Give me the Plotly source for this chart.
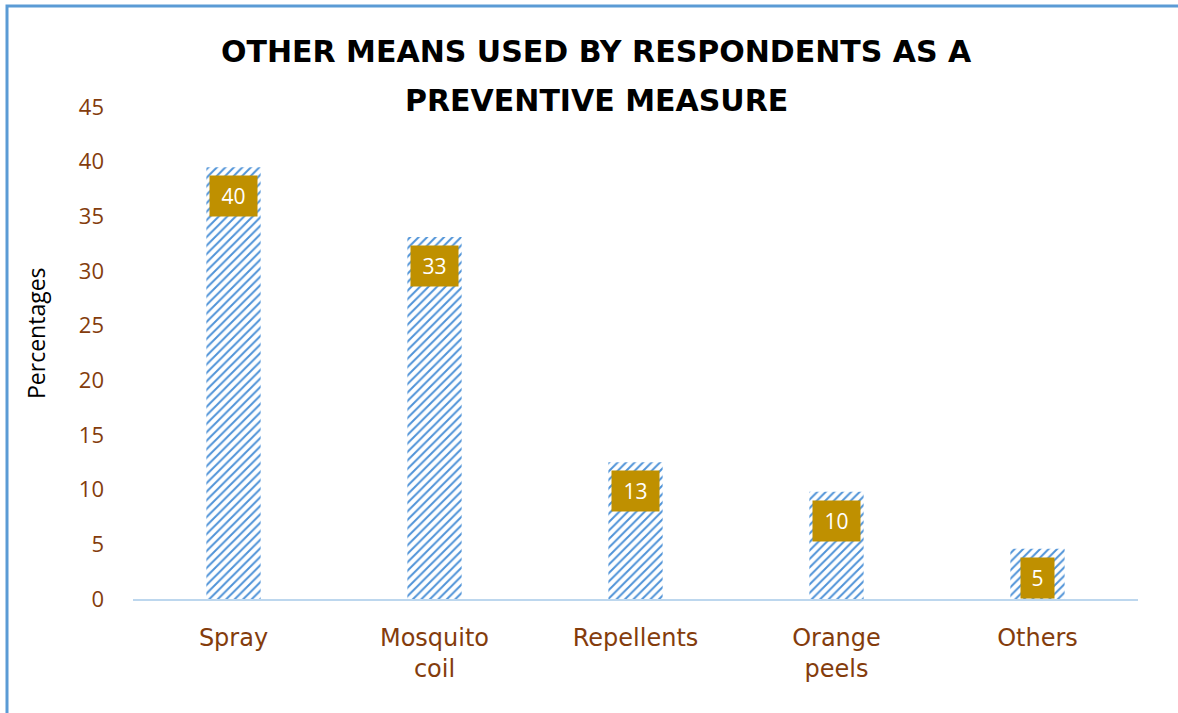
import plotly.graph_objects as go

# Survey results: other preventive means used by respondents (%)
categories = ["Spray", "Mosquito<br>coil", "Repellents", "Orange<br>peels", "Others"]
percentages = [39.5, 33.1, 12.5, 9.8, 4.6]
y_ticks = [0, 5, 10, 15, 20, 25, 30, 35, 40, 45]

title_lines = ["OTHER MEANS USED BY RESPONDENTS AS A", "PREVENTIVE MEASURE"]
y_title = "Percentages"

BROWN = "#843C0C"
BLUE = "#4F93D8"
GOLD = "#BF9000"
FONT = "Open Sans"

PLOT_LEFT, PLOT_RIGHT = 133, 1138
PLOT_TOP, PLOT_BOTTOM = 107, 599


def label_of(v):
    # whole-number data label, halves rounded up
    return str(int(v + 0.5))


def px_to_paper_x(px):
    return (px - PLOT_LEFT) / (PLOT_RIGHT - PLOT_LEFT)


def px_to_paper_y(py):
    return 1 + (PLOT_TOP - py) / (PLOT_BOTTOM - PLOT_TOP)


fig = go.Figure(
    go.Bar(
        x=categories,
        y=percentages,
        width=0.27,
        marker=dict(
            color="white",
            line=dict(width=0),
            pattern=dict(shape="/", fgcolor=BLUE, bgcolor="white",
                         fgopacity=1, size=6, solidity=0.33),
        ),
        hoverinfo="x+y",
    )
)

# value boxes just inside the top of each bar
for cat, val in zip(categories, percentages):
    txt = label_of(val)
    fig.add_annotation(
        x=cat, y=val, xref="x", yref="y",
        text=txt, showarrow=False,
        yanchor="top", yshift=-8,
        width=17 + 14 * len(txt), height=38,
        bgcolor=GOLD,
        font=dict(family=FONT, size=21, color="white"),
    )

# two-line chart title, centred on the whole chart
for i, line in enumerate(title_lines):
    fig.add_annotation(
        x=px_to_paper_x(596), y=px_to_paper_y(52 + 48 * i),
        xref="paper", yref="paper",
        text=f"<b>{line}</b>", showarrow=False,
        font=dict(family="DejaVu Sans", size=30, color="black"),
        xanchor="center", yanchor="middle",
    )

# vertical value-axis title
fig.add_annotation(
    x=px_to_paper_x(36), y=px_to_paper_y(333),
    xref="paper", yref="paper",
    text=y_title, showarrow=False, textangle=-90,
    font=dict(family=FONT, size=23, color="black"),
    xanchor="center", yanchor="middle",
)

# chart-area frame
fig.add_shape(
    type="rect", xref="paper", yref="paper",
    x0=px_to_paper_x(7), x1=1.2, y0=-0.4, y1=px_to_paper_y(6),
    line=dict(color="#5B9BD5", width=3), fillcolor="rgba(0,0,0,0)", layer="below",
)

fig.update_layout(
    width=1178, height=713,
    margin=dict(l=PLOT_LEFT, r=1178 - PLOT_RIGHT, t=PLOT_TOP, b=713 - PLOT_BOTTOM),
    paper_bgcolor="white", plot_bgcolor="white",
    showlegend=False,
    font=dict(family=FONT),
    xaxis=dict(
        showline=True, linecolor="#BDD7EE", linewidth=2,
        showgrid=False, ticks="",
        tickfont=dict(family="DejaVu Sans", size=24, color=BROWN),
        ticklabelstandoff=16,
    ),
    yaxis=dict(
        range=[0, 45], tickvals=y_ticks,
        showline=False, showgrid=False, zeroline=False, ticks="",
        tickfont=dict(family=FONT, size=22, color=BROWN),
        ticklabelstandoff=28,
    ),
)

fig.write_html("out.html")
